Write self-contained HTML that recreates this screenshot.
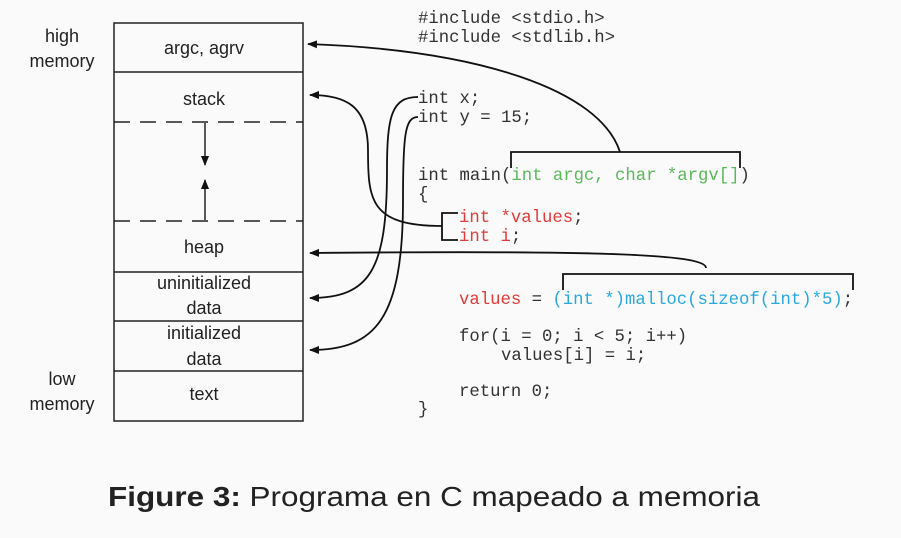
<!DOCTYPE html>
<html><head><style>
html,body{margin:0;padding:0;background:#fafafa;}
svg{display:block}
.s{font-family:"Liberation Sans",sans-serif;font-size:18px;fill:#222;text-anchor:middle}
.m{font-family:"Liberation Mono",monospace;font-size:17.3px;fill:#333}
.r{fill:#e03a3a}
.g{fill:#5cb85c}
.b{fill:#29a8e0}
</style></head><body>
<svg width="901" height="538" viewBox="0 0 901 538" xmlns="http://www.w3.org/2000/svg">
<defs><marker id="a" markerWidth="10" markerHeight="8" refX="9" refY="4" orient="auto" markerUnits="userSpaceOnUse"><path d="M0,0 L10,4 L0,8 Z" fill="#111"/></marker></defs>
<rect width="901" height="538" fill="#fafafa"/>
<g stroke="#222" stroke-width="1.5" fill="none">
<rect x="114" y="23" width="189" height="398"/>
<line x1="114" y1="72" x2="303" y2="72"/>
<line x1="114" y1="272" x2="303" y2="272"/>
<line x1="114" y1="321" x2="303" y2="321"/>
<line x1="114" y1="371" x2="303" y2="371"/>
<line x1="114" y1="122" x2="303" y2="122" stroke-dasharray="16,10"/>
<line x1="114" y1="221" x2="303" y2="221" stroke-dasharray="16,10"/>
<line x1="205" y1="123" x2="205" y2="165" marker-end="url(#a)"/>
<line x1="205" y1="220" x2="205" y2="180" marker-end="url(#a)"/>
</g>
<text class="s" x="62" y="42">high</text>
<text class="s" x="62" y="67">memory</text>
<text class="s" x="62" y="385">low</text>
<text class="s" x="62" y="410">memory</text>
<text class="s" x="204" y="54">argc, agrv</text>
<text class="s" x="204" y="105">stack</text>
<text class="s" x="204" y="253">heap</text>
<text class="s" x="204" y="289">uninitialized</text>
<text class="s" x="204" y="314">data</text>
<text class="s" x="204" y="339">initialized</text>
<text class="s" x="204" y="365">data</text>
<text class="s" x="204" y="400">text</text>

<text class="m" x="418" y="23">#include &lt;stdio.h&gt;</text>
<text class="m" x="418" y="42">#include &lt;stdlib.h&gt;</text>
<text class="m" x="418" y="103">int x;</text>
<text class="m" x="418" y="122">int y = 15;</text>
<text class="m" x="418" y="180">int main(<tspan class="g">int argc, char *argv[]</tspan>)</text>
<text class="m" x="418" y="199">{</text>
<text class="m" x="459" y="222"><tspan class="r">int *values</tspan>;</text>
<text class="m" x="459" y="241"><tspan class="r">int i</tspan>;</text>
<text class="m" x="459" y="304"><tspan class="r">values</tspan> = <tspan class="b">(int *)malloc(sizeof(int)*5)</tspan>;</text>
<text class="m" x="459" y="341">for(i = 0; i &lt; 5; i++)</text>
<text class="m" x="501" y="360">values[i] = i;</text>
<text class="m" x="459" y="396">return 0;</text>
<text class="m" x="418" y="414">}</text>

<g stroke="#111" stroke-width="1.8" fill="none">
<path d="M511,168 V152 H740 V168"/>
<path d="M563,290 V274 H853 V290"/>
<path d="M458,213 H442 V240 H458"/>
<path d="M620,152 C600,90 480,50 308,44" marker-end="url(#a)"/>
<path d="M442,226 C370,226 368,200 368,150 C368,105 345,95 310,95" marker-end="url(#a)"/>
<path d="M706,268 C706,255 620,250 310,253" marker-end="url(#a)"/>
<path d="M418,97 C392,97 387,115 387,170 C387,270 370,298 310,298" marker-end="url(#a)"/>
<path d="M418,117 C405,117 403,135 403,200 C403,320 375,350 310,350" marker-end="url(#a)"/>
</g>
<text x="108" y="506" font-family="Liberation Sans,sans-serif" font-size="28" fill="#222" textLength="652" lengthAdjust="spacingAndGlyphs"><tspan font-weight="bold">Figure 3:</tspan> Programa en C mapeado a memoria</text>
</svg>
</body></html>
